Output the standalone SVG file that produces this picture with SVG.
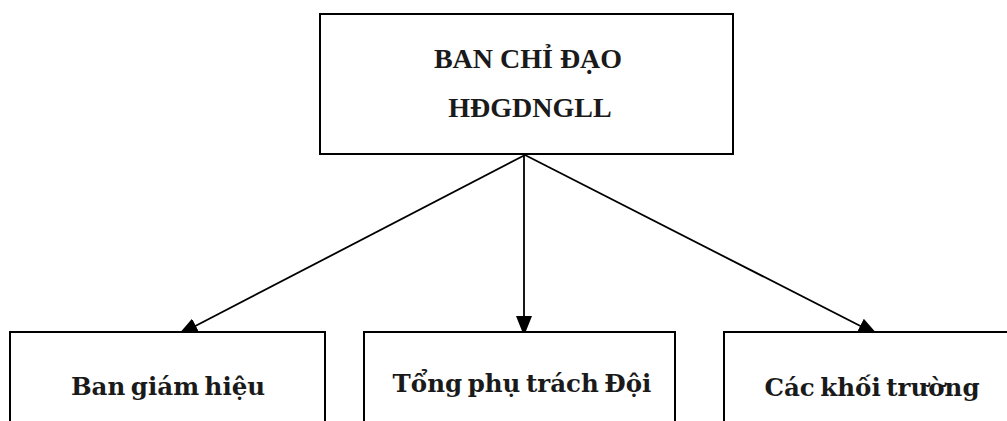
<svg xmlns="http://www.w3.org/2000/svg" width="1007" height="421" viewBox="0 0 1007 421">
<style>
.box{fill:#fff;stroke:#000;stroke-width:2}
.conn{stroke:#000;stroke-width:1.8;fill:none}
.t{font-family:"Liberation Serif","DejaVu Serif",serif;font-weight:bold;fill:#1a1a1a;text-anchor:middle}
.top{font-size:28px}
.bot{font-family:"DejaVu Serif","Liberation Serif",serif;font-size:24.5px;word-spacing:-3px}
</style>
<defs>
<marker id="arr" markerUnits="userSpaceOnUse" markerWidth="20" markerHeight="16" refX="20" refY="8" orient="auto" viewBox="0 0 20 16">
<path d="M0,0 L20,8 L0,16 z" fill="#000"/>
</marker>
</defs>
<rect width="1007" height="421" fill="#fff"/>
<g id="connectors">
<line class="conn" x1="525" y1="155" x2="178" y2="335" marker-end="url(#arr)"/>
<line class="conn" x1="524" y1="155" x2="524" y2="336" marker-end="url(#arr)"/>
<line class="conn" x1="525" y1="155" x2="878" y2="335" marker-end="url(#arr)"/>
</g>
<g id="node-top">
<rect class="box" x="320" y="14" width="413" height="140"/>
<text class="t top" x="528" y="68">BAN CHỈ ĐẠO</text>
<text class="t top" x="530" y="117">HĐGDNGLL</text>
</g>
<g id="node-bgh">
<rect class="box" x="10" y="332" width="315" height="100"/>
<text class="t bot" x="168" y="395">Ban giám hiệu</text>
</g>
<g id="node-tpt">
<rect class="box" x="364" y="332" width="311" height="100"/>
<text class="t bot" x="522" y="392">Tổng phụ trách Đội</text>
</g>
<g id="node-ckt">
<rect class="box" x="724" y="332" width="300" height="100"/>
<text class="t bot" x="872" y="396">Các khối trường</text>
</g>
</svg>
